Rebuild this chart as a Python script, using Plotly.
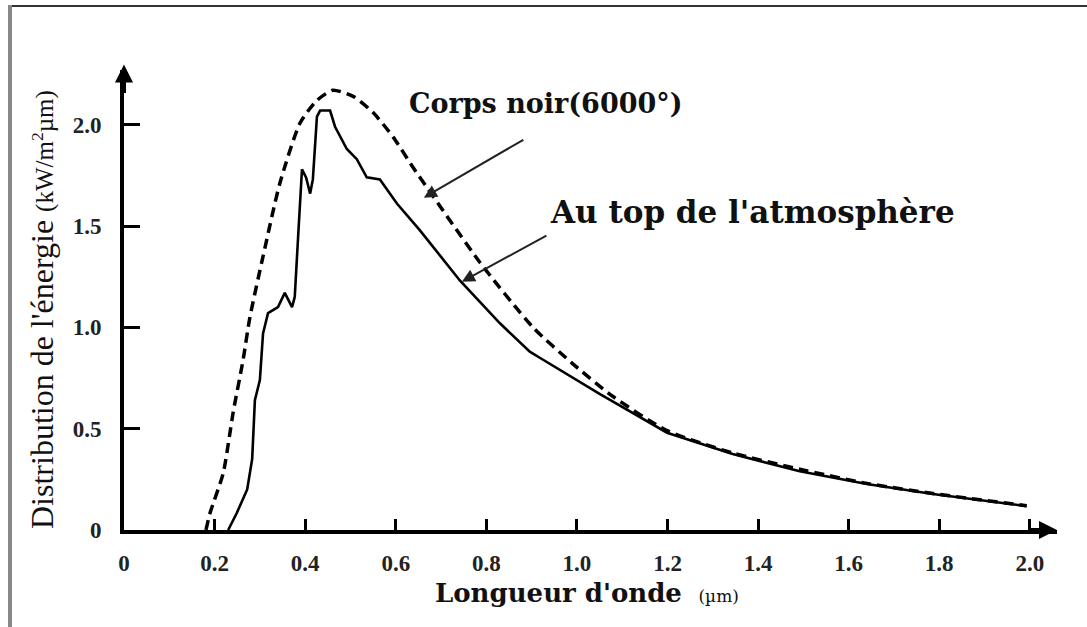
import plotly.graph_objects as go

# ---- data ----
bb_x = [0.181, 0.190, 0.219, 0.241, 0.263, 0.278, 0.307, 0.344, 0.389, 0.426, 0.461,
        0.506, 0.550, 0.594, 0.638, 0.669, 0.786, 0.903, 0.991, 1.079, 1.199, 1.344,
        1.492, 1.640, 1.786, 1.993]
bb_y = [0.0, 0.084, 0.28, 0.58, 0.84, 1.05, 1.35, 1.71, 2.01, 2.12, 2.17,
        2.14, 2.06, 1.94, 1.79, 1.69, 1.32, 1.00, 0.82, 0.66, 0.49, 0.38,
        0.30, 0.23, 0.18, 0.12]

toa_x = [0.230, 0.249, 0.272, 0.283, 0.289, 0.300, 0.307, 0.318, 0.340, 0.355, 0.371,
         0.377, 0.384, 0.393, 0.402, 0.411, 0.417, 0.426, 0.433, 0.455, 0.466, 0.492,
         0.514, 0.536, 0.565, 0.603, 0.653, 0.742, 0.830, 0.896, 0.918, 1.051, 1.199,
         1.344, 1.492, 1.640, 1.786, 1.993]
toa_y = [0.0, 0.084, 0.20, 0.35, 0.64, 0.74, 0.97, 1.07, 1.10, 1.17, 1.10,
         1.15, 1.43, 1.78, 1.74, 1.66, 1.73, 2.04, 2.07, 2.07, 1.99, 1.88,
         1.83, 1.74, 1.73, 1.61, 1.48, 1.23, 1.02, 0.88, 0.85, 0.67, 0.48,
         0.375, 0.29, 0.227, 0.178, 0.118]

x_ticks = [0, 0.2, 0.4, 0.6, 0.8, 1.0, 1.2, 1.4, 1.6, 1.8, 2.0]
x_tick_labels = ["0", "0.2", "0.4", "0.6", "0.8", "1.0", "1.2", "1.4", "1.6", "1.8", "2.0"]
y_ticks = [0, 0.5, 1.0, 1.5, 2.0]
y_tick_labels = ["0", "0.5", "1.0", "1.5", "2.0"]

# ---- layout geometry ----
W, H = 1087, 627
L, T = 124, 70
PW, PH = 933, 460
B = H - T - PH
R = W - L - PW


def px(xp):
    return (xp - L) / PW


def py(yp):
    return (T + PH - yp) / PH


SERIF = "Liberation Serif"
WIDE = "DejaVu Serif"

fig = go.Figure()
fig.add_trace(go.Scatter(x=bb_x, y=bb_y, mode="lines",
                         line=dict(color="black", width=3.5, dash="10px,6px", shape="spline", smoothing=0.6),
                         showlegend=False, hoverinfo="skip"))
fig.add_trace(go.Scatter(x=toa_x, y=toa_y, mode="lines",
                         line=dict(color="black", width=2.6),
                         showlegend=False, hoverinfo="skip"))

annotations = [
    # curve labels
    dict(text="Corps noir(6000°)", x=px(407), y=py(103), xref="paper", yref="paper",
         xanchor="left", yanchor="middle", showarrow=False,
         font=dict(family=WIDE, size=27, color="#111", weight="bold")),
    dict(text="Au top de l'atmosphère", x=px(548), y=py(212), xref="paper", yref="paper",
         xanchor="left", yanchor="middle", showarrow=False,
         font=dict(family=WIDE, size=31, color="#111", weight="bold")),
    # pointer arrows
    dict(x=0.662, y=1.64, ax=0.885, ay=1.93, xref="x", yref="y", axref="x", ayref="y",
         text="", showarrow=True, arrowhead=2, arrowsize=1.3, arrowwidth=2, arrowcolor="#222"),
    dict(x=0.746, y=1.225, ax=0.936, ay=1.457, xref="x", yref="y", axref="x", ayref="y",
         text="", showarrow=True, arrowhead=2, arrowsize=1.3, arrowwidth=2, arrowcolor="#222"),
    # axis arrows
    dict(x=0, y=1.012, xref="x", yref="paper", ax=0, ay=30, text="", showarrow=True,
         arrowhead=2, arrowsize=0.9, arrowwidth=4, arrowcolor="black"),
    dict(x=1.0, y=0, xref="paper", yref="y", ax=-30, ay=0, text="", showarrow=True,
         arrowhead=2, arrowsize=0.9, arrowwidth=4, arrowcolor="black"),
    # axis titles
    dict(text="<b>Longueur d'onde</b>  <span style='font-size:17px'>(µm)</span>",
         x=px(587), y=py(593), xref="paper", yref="paper", xanchor="center", yanchor="middle",
         showarrow=False, font=dict(family=WIDE, size=26, color="#111")),
    dict(text="Distribution de l'énergie <span style='font-size:25px'>(kW/m<sup>2</sup>µm)</span>",
         x=px(42), y=py(310), xref="paper", yref="paper", xanchor="center", yanchor="middle",
         textangle=-90, showarrow=False, font=dict(family=SERIF, size=32, color="#111")),
]

shapes = [
    dict(type="line", xref="paper", yref="paper", x0=px(10), x1=px(1087), y0=py(6), y1=py(6),
         line=dict(color="#333", width=2)),
    dict(type="line", xref="paper", yref="paper", x0=px(10), x1=px(10), y0=py(5), y1=py(627),
         line=dict(color="#888", width=4)),
]

fig.update_layout(
    width=W, height=H,
    margin=dict(l=L, r=R, t=T, b=B, pad=0),
    paper_bgcolor="white", plot_bgcolor="white",
    annotations=annotations, shapes=shapes,
    xaxis=dict(range=[0, 2.06], tickvals=x_ticks, ticktext=x_tick_labels,
               showgrid=False, zeroline=False, showline=True, linecolor="black", linewidth=4,
               ticks="inside", ticklen=11, tickwidth=3, tickcolor="black",
               ticklabelstandoff=9,
               tickfont=dict(family=SERIF, size=23, color="#222", weight="bold")),
    yaxis=dict(range=[0, 2.27], tickvals=y_ticks, ticktext=y_tick_labels,
               showgrid=False, zeroline=False, showline=True, linecolor="black", linewidth=4,
               ticks="inside", ticklen=16, tickwidth=2.5, tickcolor="black",
               ticklabelstandoff=14,
               tickfont=dict(family=SERIF, size=23, color="#222", weight="bold")),
)

fig.write_html("out.html")
